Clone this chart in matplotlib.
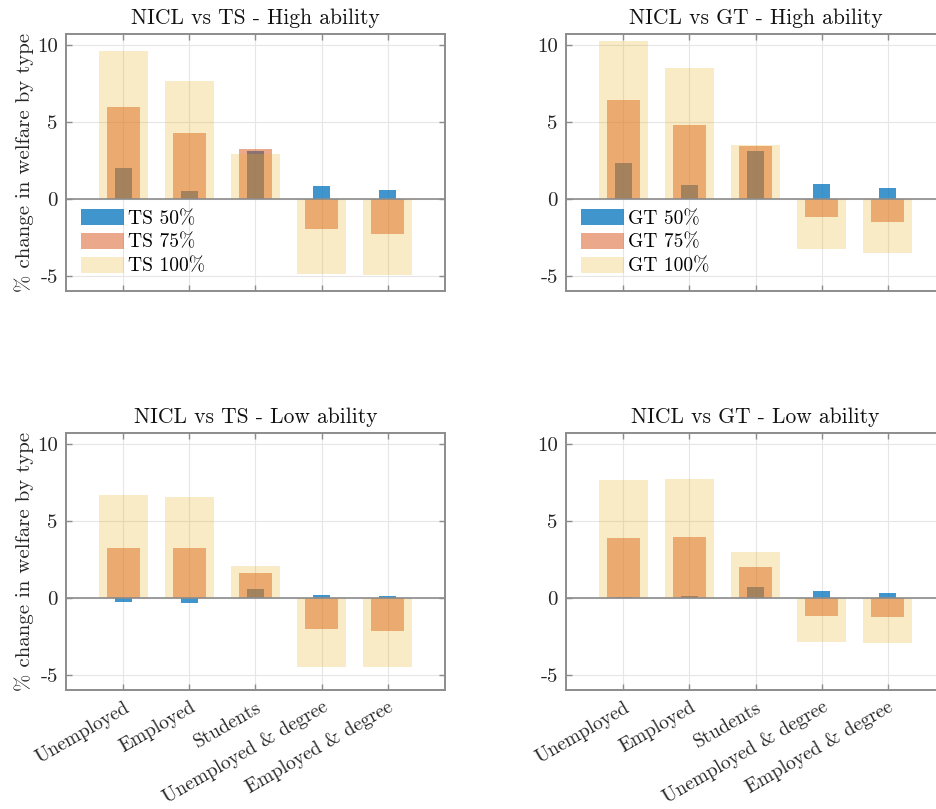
import matplotlib
matplotlib.use("Agg")
import matplotlib.pyplot as plt
import numpy as np

plt.rcParams['font.family'] = ['cmr10', 'DejaVu Serif']
plt.rcParams['mathtext.fontset'] = 'cm'
plt.rcParams['axes.unicode_minus'] = False

categories = ["Unemployed", "Employed", "Students", "Unemployed & degree", "Employed & degree"]

# % change in welfare by type
ts_high_50 = [1.97, 0.52, 3.13, 0.82, 0.60]
ts_high_75 = [5.96, 4.28, 3.22, -1.99, -2.27]
ts_high_100 = [9.63, 7.65, 2.89, -4.89, -4.97]

gt_high_50 = [2.31, 0.89, 3.09, 0.95, 0.69]
gt_high_75 = [6.44, 4.82, 3.43, -1.21, -1.49]
gt_high_100 = [10.26, 8.51, 3.50, -3.24, -3.54]

ts_low_50 = [-0.30, -0.33, 0.56, 0.17, 0.11]
ts_low_75 = [3.25, 3.21, 1.58, -2.06, -2.13]
ts_low_100 = [6.68, 6.57, 2.08, -4.53, -4.51]

gt_low_50 = [0.05, 0.10, 0.69, 0.41, 0.33]
gt_low_75 = [3.90, 3.97, 2.00, -1.19, -1.28]
gt_low_100 = [7.66, 7.74, 2.99, -2.89, -2.95]

panels = [
    ("NICL vs TS - High ability", "TS", ts_high_50, ts_high_75, ts_high_100),
    ("NICL vs GT - High ability", "GT", gt_high_50, gt_high_75, gt_high_100),
    ("NICL vs TS - Low ability", "TS", ts_low_50, ts_low_75, ts_low_100),
    ("NICL vs GT - Low ability", "GT", gt_low_50, gt_low_75, gt_low_100),
]

blue = (0.0, 0.447, 0.741)
orange = (0.85, 0.325, 0.098)
yellow = (0.929, 0.694, 0.125)
gray = "#8c8c8c"

fig = plt.figure(figsize=(9.36, 8.09), dpi=100)
W, H = 936, 809
boxes = [(66, 34), (566, 34), (66, 433), (566, 433)]
aw, ah = 379, 257

x = np.arange(1, len(categories) + 1)

for i, (title, name, v50, v75, v100) in enumerate(panels):
    left, top = boxes[i]
    ax = fig.add_axes([left / W, 1 - (top + ah) / H, aw / W, ah / H])
    ax.set_axisbelow(True)
    ax.grid(True, color="#e6e6e6", linewidth=0.8)

    # draw order: 50% first, then 75%, then 100% on top (as in the original)
    ax.bar(x, v50, width=0.25, color=blue, alpha=0.75, edgecolor="none", label=f"{name} 50%")
    ax.bar(x, v75, width=0.5, color=orange, alpha=0.5, edgecolor="none", label=f"{name} 75%")
    ax.bar(x, v100, width=0.74, color=yellow, alpha=0.25, edgecolor="none", label=f"{name} 100%")
    ax.axhline(0, color=gray, linewidth=1.2)

    ax.set_xlim(0.13, 5.87)
    ax.set_ylim(-6, 10.72)
    ax.set_yticks([-5, 0, 5, 10])
    ax.set_yticklabels(["-5", "0", "5", "10"])
    ax.set_xticks(x)
    if i >= 2:
        ax.set_xticklabels(categories, rotation=30, ha="right", rotation_mode="anchor")
    else:
        ax.set_xticklabels([])
    ax.tick_params(direction="in", length=4, width=1, color=gray,
                   top=True, right=True, labelcolor="#262626", pad=6)
    ax.tick_params(axis="y", labelsize=15)
    ax.tick_params(axis="x", labelsize=14)
    for s in ax.spines.values():
        s.set_color(gray)
        s.set_linewidth(1.4)

    ax.set_title(title, fontsize=15.5, pad=7, color="#111111")
    if i % 2 == 0:
        ax.set_ylabel("% change in welfare by type", fontsize=15, color="#262626", labelpad=2)

    if i < 2:
        ax.legend(loc="upper left", bbox_to_anchor=(0.04, 0.318), frameon=False,
                  fontsize=14, borderpad=0, borderaxespad=0, handlelength=2.2,
                  handleheight=0.9, handletextpad=0.2, labelspacing=0.25)

fig.savefig("out.png", dpi=100)
